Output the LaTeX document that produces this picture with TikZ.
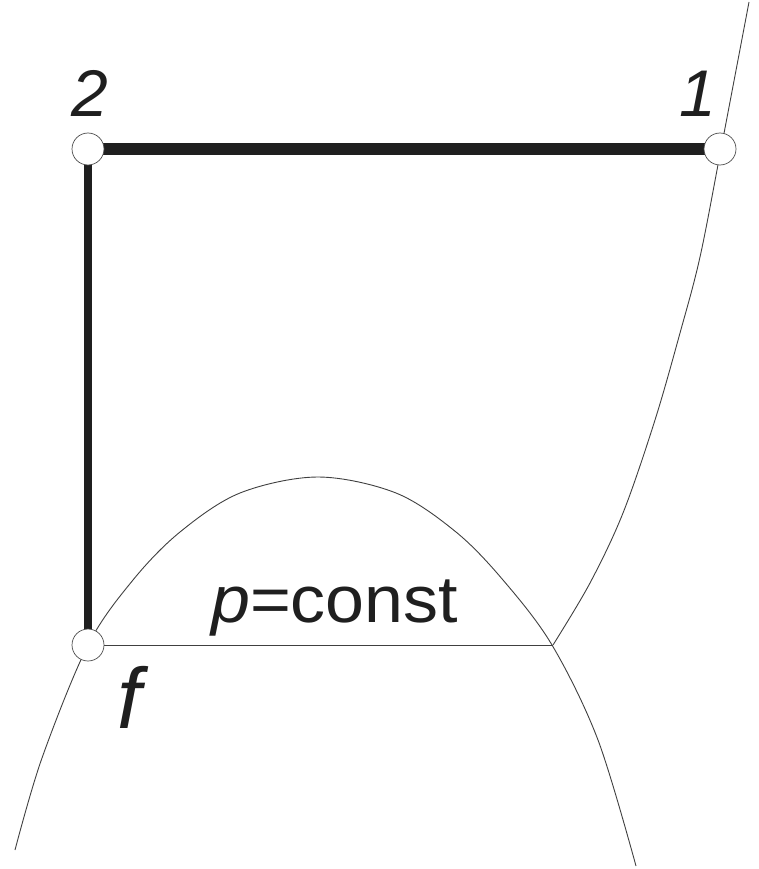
\documentclass[tikz,border=0pt]{standalone}
\usepackage{fontspec}
\setmainfont{Liberation Sans}
\begin{document}
\begin{tikzpicture}[x=1pt,y=-1pt,
  thin curve/.style={line width=0.9pt,draw=black!75},
  state/.style={circle,draw=black!70,line width=0.7pt,fill=white,minimum size=32pt,inner sep=0pt},
  bar/.style={line width=12pt,draw=black!88},
  vbar/.style={line width=7.5pt,draw=black!88},
  lbl/.style={inner sep=0pt,font=\fontsize{66}{72}\selectfont,text=black!88}]
\useasboundingbox (0,0) rectangle (758,869);
\coordinate (c2) at (88,149);
\coordinate (c1) at (720,149);
\coordinate (cf) at (88,645);
\coordinate (cx) at (553,645);
% saturation dome
\draw[thin curve] plot[smooth,tension=0.55] coordinates {(15,850) (42,758) (88,645) (133,580) (180,532) (240,493) (318,477) (396,493) (456,532) (503,580) (552,645) (598,740) (636,866)};
% isobar in superheated region
\draw[thin curve] plot[smooth,tension=0.55] coordinates {(553,645) (590,583) (623,513) (655,420) (680,333) (700,257) (721,149) (749,2)};
% isobar in wet region
\draw[thin curve] (cf) -- (cx);
% process lines
\draw[bar] (c2) -- (c1);
\draw[vbar] (c2) -- (cf);
\node[state] (n2) at (c2) {};
\node[state] (n1) at (c1) {};
\node[state] (nf) at (cf) {};
\node[lbl,anchor=base] (l2) at (90,117) {\itshape 2};
\node[lbl,anchor=base] (l1) at (698,117) {\itshape 1};
\node[lbl,anchor=south] (lf) at (129,729) {\scalebox{1.3}{\itshape f}};
\node[lbl,anchor=base west] (lp) at (211,622) {\scalebox{1.06}[1]{\itshape p\upshape =const}};
\end{tikzpicture}
\end{document}
